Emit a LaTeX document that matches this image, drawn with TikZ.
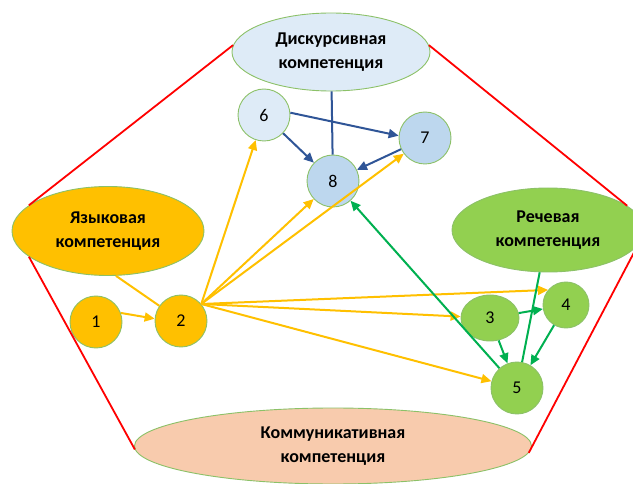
\documentclass[tikz,border=0pt]{standalone}
\usepackage{fontspec}
\setmainfont{Carlito}
\usepackage{tikz}
\usetikzlibrary{shapes.geometric,arrows.meta}

\definecolor{gold}{HTML}{FFC000}
\definecolor{grass}{HTML}{92D050}
\definecolor{arrowgreen}{HTML}{00B050}
\definecolor{navy}{HTML}{2F5597}
\definecolor{paleblue}{HTML}{DEEBF7}
\definecolor{skyblue}{HTML}{BDD7EE}
\definecolor{peach}{HTML}{F8CBAD}
\definecolor{rim}{HTML}{8CC168}

\begin{document}
\begin{tikzpicture}[x=1pt,y=-1pt,
    comp/.style={ellipse,draw=rim,line width=0.9pt,inner sep=0pt,align=center,font=\fontsize{18}{24}\selectfont\bfseries},
    num/.style={circle,draw=rim,line width=0.9pt,minimum size=52pt,inner sep=0pt,font=\fontsize{18}{20}\selectfont},
    link/.style={line width=2pt},
    tip/.style={link,-{Triangle[length=10pt,width=9pt]}}]
    \useasboundingbox (0,0) rectangle (633,484);
    % Competences
    \node[comp,fill=paleblue,minimum width=198pt,minimum height=78pt] (disc) at (331,52) {Дискурсивная\\компетенция};
    \node[comp,fill=gold,minimum width=192pt,minimum height=89pt] (lang) at (108,231) {Языковая\\компетенция};
    \node[comp,fill=grass,minimum width=192pt,minimum height=84pt] (speech) at (548,230) {Речевая\\компетенция};
    \node[comp,fill=peach,minimum width=397pt,minimum height=76pt] (comm) at (333,446) {Коммуникативная\\компетенция};
    % Numbered circles
    \node[num,fill=gold] (n1) at (96,322) {1};
    \node[num,fill=gold] (n2) at (181,321) {2};
    \node[num,fill=grass,ellipse,minimum width=58pt,minimum height=46pt] (n3) at (490,318) {3};
    \node[num,fill=grass,minimum size=46pt] (n4) at (566,305) {4};
    \node[num,fill=grass] (n5) at (517,388) {5};
    \node[num,fill=paleblue] (n6) at (264,115) {6};
    \node[num,fill=skyblue] (n7) at (425,138) {7};
    \node[num,fill=skyblue] (n8) at (333,181) {8};
    % Frame
    \draw[red,line width=1.8pt] (disc.176) -- (lang.162);
    \draw[red,line width=1.8pt] (lang.-162) -- (comm.181);
    \draw[red,line width=1.8pt] (disc.4) -- (speech.17);
    \draw[red,line width=1.8pt] (speech.-10) -- (comm.-2);
    % Blue links
    \draw[link,navy] (disc) -- (n8);
    \draw[tip,navy] (n6.5) -- (n7.175);
    \draw[tip,navy] (n6) -- (n8);
    \draw[tip,navy] (n7) -- (n8);
    % Gold links
    \draw[link,gold] (lang.-80) -- (n2.145);
    \draw[tip,gold] (n1.20) -- (n2.175);
    \coordinate (hub) at (n2.40);
    \foreach \target in {n6,n8,n7,n3,n5} {%
        \draw[tip,gold] (hub) -- (\target);
    }
    \draw[tip,gold] (hub) -- (n4.140);
    % Green links
    \draw[link,arrowgreen] (speech) -- (n5);
    \draw[tip,arrowgreen] (n3) -- (n4);
    \draw[tip,arrowgreen] (n3) -- (n5);
    \draw[tip,arrowgreen] (n4) -- (n5);
    \draw[tip,arrowgreen] (n5) -- (n8);
\end{tikzpicture}
\end{document}
